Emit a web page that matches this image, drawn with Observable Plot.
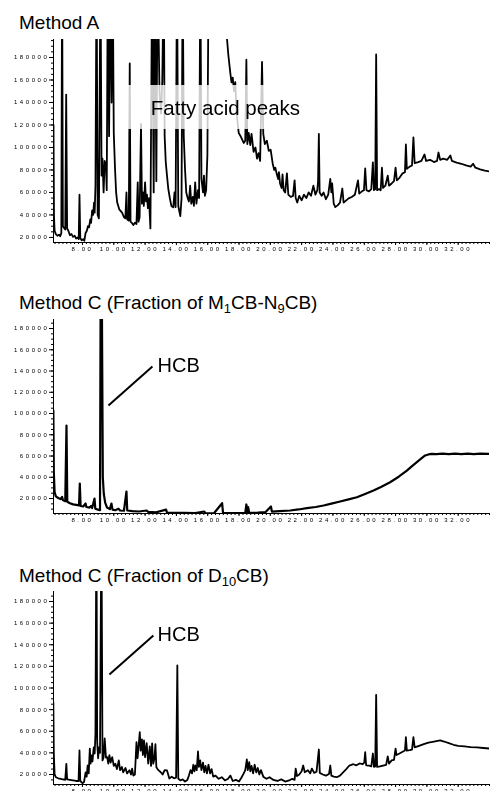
<!DOCTYPE html>
<html><head><meta charset="utf-8">
<script src="https://cdn.jsdelivr.net/npm/d3@7"></script>
<script src="https://cdn.jsdelivr.net/npm/@observablehq/plot@0.6"></script>
<style>
html,body{margin:0;padding:0;background:#fff;}
body{width:490px;height:791px;overflow:hidden;position:relative;font-family:"Liberation Sans",Arial,sans-serif;}
.title{position:absolute;left:19px;font-size:19px;line-height:18px;color:#000;white-space:nowrap;}
.title sub{font-size:0.68em;vertical-align:-0.3em;line-height:0;}
.panel{position:absolute;left:0;will-change:transform;}
.panel svg{display:block;overflow:visible;}
.panel g[aria-label$="tick label"] text{letter-spacing:2.6px;}
</style></head><body>
<div class="title" style="top:14px">Method A</div>
<div class="panel" id="pA" style="top:30px"></div>
<div class="title" style="top:294px">Method C (Fraction of M<sub>1</sub>CB-N<sub>9</sub>CB)</div>
<div class="panel" id="pC1" style="top:310px"></div>
<div class="title" style="top:567px">Method C (Fraction of D<sub>10</sub>CB)</div>
<div class="panel" id="pC2" style="top:582px"></div>
<script>
// ---- Method A: retention time (min) and abundance ----
const aTime = [6.15,6.18,6.22,6.30,6.40,6.50,6.58,6.65,6.70,6.75,6.82,6.90,6.96,7.02,7.10,7.20,7.30,7.40,7.50,7.60,7.70,7.76,7.81,7.86,7.95,8.05,8.12,8.20,8.28,8.35,8.42,8.50,8.55,8.62,8.68,8.74,8.78,8.83,8.90,8.97,9.05,9.15,9.22,9.28,9.35,9.42,9.50,9.55,9.62,9.70,9.79,9.86,9.93,10.00,10.08,10.15,10.22,10.35,10.53,10.65,10.74,10.81,10.86,10.96,11.02,11.07,11.15,11.25,11.35,11.45,11.53,11.58,11.65,11.74,11.80,11.86,11.92,12.00,12.06,12.12,12.18,12.25,12.34,12.45,12.55,12.62,12.72,12.80,12.92,13.02,13.10,13.19,13.25,13.32,13.40,13.48,13.58,13.68,13.80,13.88,13.95,14.04,14.12,14.25,14.33,14.40,14.47,14.55,14.63,14.72,14.80,14.88,14.95,15.05,15.12,15.20,15.28,15.38,15.45,15.53,15.60,15.70,15.76,15.82,15.90,15.98,16.06,17.20,17.23,17.32,17.44,17.52,17.60,17.68,17.76,17.85,17.98,18.10,18.30,18.40,18.47,18.53,18.62,18.72,18.80,18.93,19.05,19.15,19.25,19.35,19.47,19.55,19.65,19.78,19.90,20.02,20.15,20.25,20.32,20.40,20.50,20.55,20.62,20.72,20.78,20.85,20.95,21.06,21.15,21.30,21.45,21.55,21.62,21.72,21.85,22.00,22.15,22.30,22.45,22.60,22.75,22.88,23.00,23.05,23.10,23.15,23.28,23.40,23.55,23.70,23.83,23.90,23.95,24.05,24.15,24.30,24.45,24.60,24.68,24.85,25.00,25.20,25.40,25.60,25.68,25.85,25.98,26.06,26.14,26.30,26.45,26.55,26.62,26.70,26.76,26.82,26.95,27.05,27.13,27.20,27.35,27.50,27.58,27.75,27.90,28.00,28.08,28.25,28.45,28.60,28.66,28.72,28.90,29.05,29.14,29.22,29.45,29.65,29.85,29.95,30.20,30.45,30.65,30.74,30.85,31.05,31.30,31.50,31.60,31.90,32.20,32.50,32.80,32.95,33.10,33.40,33.70,34.00];
const aSignal = [120000,40000,26000,23000,21500,22500,21000,24000,260000,30000,28500,27000,147000,28000,26000,22000,23000,20500,21500,19000,20000,18500,58000,19500,17500,18500,17000,24000,26000,30000,29000,36000,33000,44000,40000,51000,42000,66000,260000,40000,37000,260000,75000,90000,60000,88000,85000,62000,260000,110000,260000,140000,260000,113000,81000,60000,51000,45000,42000,38000,37000,60000,36000,35000,174700,34000,33000,31000,33000,32000,69000,34000,38000,121000,50000,60000,48000,69000,52000,58000,46000,55000,28000,260000,60000,260000,70000,260000,150000,130000,160000,260000,110000,87000,75000,63500,55000,48000,46700,60000,47000,260000,48000,39000,55000,260000,110000,81000,60000,55000,52000,66000,50000,56000,48000,69000,50000,62000,55000,260000,72000,60000,75000,57000,62000,93000,260000,260000,197000,182000,166700,157800,162000,150000,158000,130000,113000,110000,104000,106000,178000,103000,113000,102000,112000,96000,100000,90000,95000,88000,176000,112000,103000,106000,97000,98000,85800,80000,82000,77000,72000,78000,68000,64000,76000,62000,60000,77000,58000,56000,57000,70700,55000,51000,57000,53000,58000,55000,60000,57000,66000,58000,62000,70000,112000,60000,57000,60000,54000,58000,72000,60000,68000,50000,47000,48500,51000,63500,51000,53000,54700,56000,58000,70700,59000,61000,62000,81300,62000,61000,63000,86700,62000,63000,182700,62000,63000,62000,82000,64000,66000,75000,66000,68000,70000,82000,70700,73000,77000,78000,102700,81000,83000,84000,109000,86000,87000,88000,93800,88000,89000,87000,88000,95500,89000,90000,89000,92900,88000,86500,85500,84000,83000,85500,82000,80500,79500,78700];

// ---- Method C, fraction M1CB-N9CB ----
const c1Time = [6.14,6.17,6.22,6.30,6.45,6.60,6.70,6.75,6.90,6.98,7.03,7.20,7.40,7.60,7.78,7.83,7.88,8.05,8.20,8.25,8.45,8.55,8.62,8.77,8.82,9.00,9.12,9.17,9.22,9.30,9.36,9.45,9.57,9.75,9.85,9.92,10.10,10.30,10.40,10.65,10.81,10.86,11.20,11.60,12.10,12.20,12.70,13.34,13.40,14.00,14.50,15.20,15.78,15.85,16.40,16.92,16.98,17.50,18.00,18.40,18.47,18.52,18.58,18.65,19.20,19.70,20.04,20.10,20.60,21.27,21.80,22.33,22.90,23.40,23.90,24.46,25.00,25.53,26.05,26.59,27.10,27.65,28.20,28.72,29.05,29.36,29.65,29.89,30.10,30.32,30.60,31.00,31.40,31.80,32.20,32.60,33.00,33.40,34.00];
const c1Signal = [103000,45000,26000,22000,20500,19500,21500,18500,17500,88700,17000,15500,14500,14000,13500,34100,13000,12500,15300,12000,11500,13000,11000,20000,10500,9500,9000,260000,260000,40000,24700,16200,11500,10000,15300,9500,9000,10500,8700,8500,26600,8700,8200,7800,8700,7500,7000,9600,6800,6600,6400,6300,7800,6200,6100,15600,6200,6200,6300,6400,14400,6500,12000,6500,6800,7300,12500,7700,8200,8700,9700,10900,12000,13400,15200,17200,19200,21200,24200,27500,31000,35300,40500,46300,50500,54200,57800,60500,61500,62000,61800,62300,61800,62200,61800,62300,61800,62200,62000];

// ---- Method C, fraction D10CB ----
const c2Time = [6.14,6.17,6.22,6.30,6.45,6.60,6.75,6.90,6.97,7.02,7.20,7.40,7.60,7.75,7.81,7.86,8.00,8.10,8.20,8.27,8.33,8.40,8.47,8.52,8.58,8.64,8.72,8.78,8.83,8.89,8.94,9.00,9.05,9.12,9.21,9.28,9.35,9.42,9.50,9.58,9.65,9.72,9.80,9.90,10.00,10.10,10.20,10.32,10.40,10.52,10.60,10.75,10.85,11.00,11.10,11.17,11.25,11.35,11.45,11.52,11.58,11.66,11.72,11.80,11.86,11.93,12.00,12.10,12.20,12.30,12.38,12.45,12.52,12.60,12.66,12.72,12.85,13.00,13.12,13.25,13.40,13.55,13.70,13.85,13.98,14.06,14.12,14.25,14.40,14.55,14.70,14.80,14.90,15.00,15.08,15.15,15.22,15.30,15.38,15.44,15.52,15.60,15.70,15.78,15.86,15.95,16.05,16.15,16.25,16.35,16.50,16.70,16.90,17.10,17.30,17.45,17.60,17.80,18.00,18.15,18.30,18.40,18.50,18.56,18.65,18.72,18.80,18.90,19.00,19.10,19.20,19.30,19.40,19.55,19.75,19.95,20.20,20.45,20.70,20.95,21.20,21.40,21.55,21.62,21.70,21.85,22.00,22.10,22.20,22.40,22.55,22.65,22.80,22.95,23.10,23.16,23.35,23.55,23.75,23.83,23.90,24.05,24.25,24.45,24.65,24.85,25.05,25.30,25.50,25.70,25.90,26.00,26.06,26.12,26.30,26.45,26.55,26.62,26.70,26.76,26.82,27.00,27.20,27.40,27.50,27.58,27.75,27.90,28.00,28.06,28.25,28.45,28.60,28.66,28.72,28.90,29.05,29.14,29.22,29.50,29.80,30.10,30.45,30.85,31.10,31.40,31.70,32.00,32.40,32.80,33.20,33.60,34.00];
const c2Signal = [87000,40000,20000,17500,16500,16000,15500,15000,29900,15500,15000,14500,14000,14000,42200,14000,12000,13000,22000,18000,28300,21000,44000,30000,37600,32000,45000,39400,57900,260000,49600,35000,45000,40000,260000,33000,35700,53300,35700,36000,30000,38000,31000,36000,28000,30000,25000,33000,24000,27000,22000,26000,21000,24000,20000,25500,19000,20000,49900,35000,45000,59100,42000,52400,38000,51500,36000,49000,30000,46000,28000,48700,30000,35000,48000,26800,24000,22100,20000,24000,23700,16300,18000,16500,17000,120800,16300,14500,15500,13500,15000,19000,24000,21000,29000,23000,28300,24000,41300,27000,33000,24000,31000,22000,28000,21000,29000,21000,25000,18000,19000,16000,17500,14500,16000,19000,14000,15000,13500,17000,21000,24000,33900,24000,31400,23000,28000,21000,29000,22000,26000,20000,24000,18000,16000,17500,15000,14000,15500,13500,14500,16000,15000,25500,18500,20000,23000,28300,22000,24000,21000,25500,21500,22500,43100,21500,20000,19000,20500,28300,19000,18000,17500,19000,22000,25000,28300,29500,28500,30200,29500,31000,40600,28500,28300,27500,39400,27000,27500,93700,27000,27500,28300,29000,36700,30000,33000,33500,44000,38000,39400,41000,42200,54500,42000,42500,43000,54500,45000,46500,48000,49500,50500,51500,50500,49000,47500,46500,46000,45300,45000,44500,44000];

// ---- axes ----
const xDomain = [6.15, 34];
const xTickValues = [8,10,12,14,16,18,20,22,24,26,28,30,32];
const yTickValues = [20000,40000,60000,80000,100000,120000,140000,160000,180000];

// ---- annotations (data units) ----
const fattyBox = {t1: 10.94, t2: 22.23, v1: 116000, v2: 155100};
const fattyLabel = {t: 17.13, v: 135000, text: "Fatty acid peaks"};
const hcbC1 = {t1: 9.66, v1: 107500, t2: 12.47, v2: 144200, tt: 12.8, tv: 145200, text: "HCB"};
const hcbC2 = {t1: 9.72, v1: 112500, t2: 12.53, v2: 148600, tt: 12.8, tv: 149500, text: "HCB"};

const toRows = (ts, vs) => ts.map((t, i) => ({t, v: vs[i]}));

function chart(rows, yDomain, height, lineWidth, extra) {
  const xMinor = d3.range(6.25, 34.001, 0.25);
  const yMinor = d3.range(5000, 200000, 5000).filter(v => v >= yDomain[0] && v <= yDomain[1]);
  return Plot.plot({
    width: 490, height,
    marginLeft: 53, marginRight: 1, marginTop: 9, marginBottom: 18,
    x: {domain: xDomain},
    y: {domain: yDomain},
    style: {fontFamily: '"Liberation Sans", Arial, sans-serif', fontSize: "6px", background: "transparent", color: "#000"},
    marks: [
      Plot.line(rows, {x: "t", y: "v", stroke: "#000", strokeWidth: lineWidth, clip: true}),
      ...extra,
      Plot.axisX({ticks: xMinor, tickSize: 2, tickFormat: () => "", label: null}),
      Plot.axisX({ticks: xTickValues, tickSize: 3, tickPadding: 1, tickFormat: d => d.toFixed(2), label: null}),
      Plot.axisY({ticks: yMinor, tickSize: 2, tickFormat: () => "", label: null}),
      Plot.axisY({ticks: yTickValues, tickSize: 4, tickPadding: 0, tickFormat: d => String(d), label: null}),
      Plot.ruleY([yDomain[0]], {stroke: "#000", strokeWidth: 1}),
      Plot.ruleX([xDomain[0]], {stroke: "#000", strokeWidth: 1})
    ]
  });
}

const hcbMarks = (h) => [
  Plot.link([h], {x1: "t1", y1: "v1", x2: "t2", y2: "v2", stroke: "#000", strokeWidth: 2}),
  Plot.text([h], {x: "tt", y: "tv", text: "text", textAnchor: "start", fontSize: 20, fill: "#000"})
];

document.getElementById("pA").append(chart(toRows(aTime, aSignal), [15500, 196000], 230, 1.8, [
  Plot.rect([fattyBox], {x1: "t1", x2: "t2", y1: "v1", y2: "v2", fill: "#fff", fillOpacity: 0.8}),
  Plot.text([fattyLabel], {x: "t", y: "v", text: "text", fontSize: 20.5, fill: "#000"})
]));
document.getElementById("pC1").append(chart(toRows(c1Time, c1Signal), [5900, 188500], 221, 2.2, hcbMarks(hcbC1)));
document.getElementById("pC2").append(chart(toRows(c2Time, c2Signal), [10750, 189250], 220, 1.8, hcbMarks(hcbC2)));
</script>
</body></html>
